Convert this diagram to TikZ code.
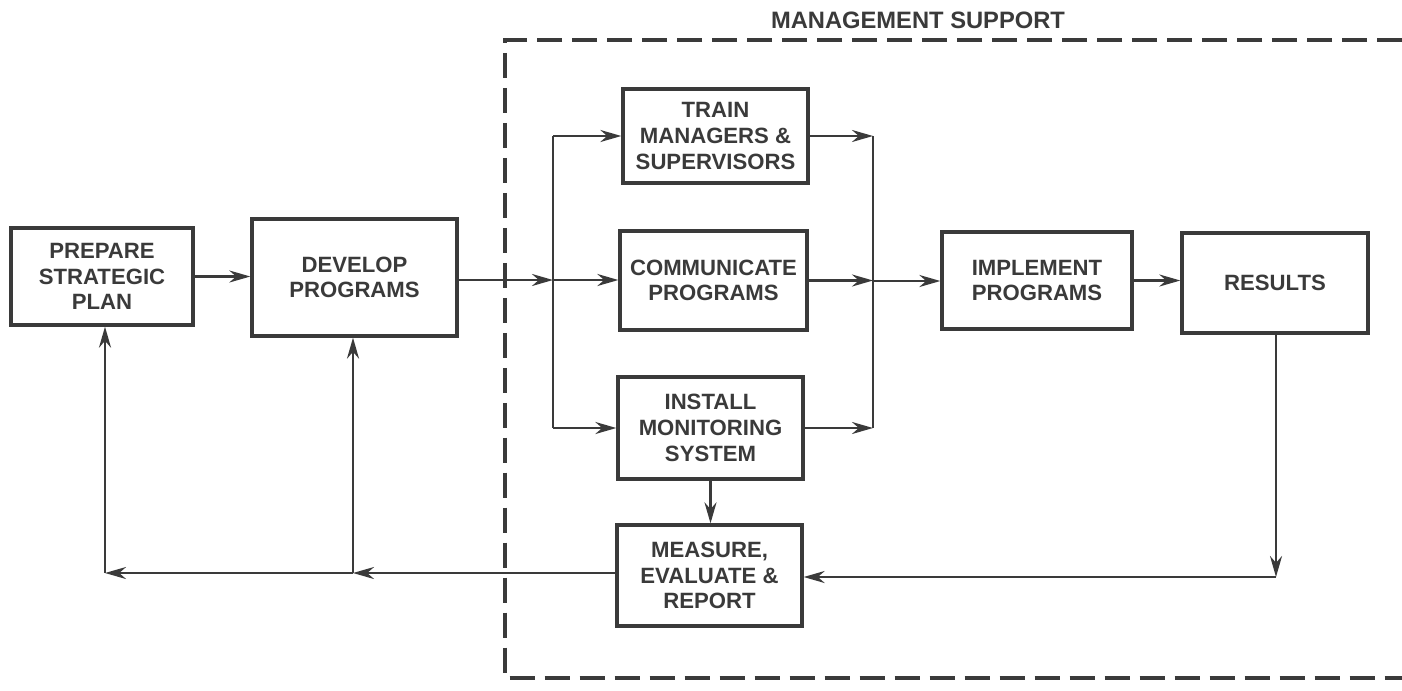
\documentclass[tikz,border=0pt]{standalone}
\usepackage{fontspec}
\setmainfont{Liberation Sans}
\usepackage{tikz}
\usetikzlibrary{arrows.meta}
\usetikzlibrary{calc}

\definecolor{ink}{RGB}{58,58,58}

\tikzset{
  blk/.style={draw=ink, line width=1.9pt, text=ink, align=center, inner sep=0pt,
    font=\fontsize{12.6}{14.6}\selectfont\bfseries},
  flow/.style={draw=ink, line width=1.5pt, -{Stealth[length=4.2mm,width=2.4mm]}},
  wire/.style={draw=ink, line width=1.5pt},
}

\begin{document}
\begin{tikzpicture}[x=0.02cm, y=-0.02cm]
\useasboundingbox (0,0) rectangle (1402,690);
% management support frame (open to the right)
\draw[ink, line width=2.1pt, dash pattern=on 0.5cm off 0.2cm] (1402,40) -- (505,40) -- (505,678) -- (1402,678);
\node[text=ink, font=\fontsize{13.5}{15}\selectfont\bfseries] (mgmt) at (918,20) {MANAGEMENT SUPPORT};

% boxes
\node[blk, minimum width=3.64cm, minimum height=1.94cm] (plan) at (102,276.5) {PREPARE\\STRATEGIC\\PLAN};
\node[blk, minimum width=4.1cm, minimum height=2.34cm] (dev) at (354.5,277.5) {DEVELOP\\PROGRAMS};
\node[blk, minimum width=3.7cm, minimum height=1.88cm] (train) at (715.5,136) {TRAIN\\MANAGERS \&\\SUPERVISORS};
\node[blk, minimum width=3.74cm, minimum height=1.98cm] (comm) at (713.5,280.5) {COMMUNICATE\\PROGRAMS};
\node[blk, minimum width=3.7cm, minimum height=2.04cm] (inst) at (710.5,428) {INSTALL\\MONITORING\\SYSTEM};
\node[blk, minimum width=3.7cm, minimum height=2.02cm] (meas) at (709.5,575.5) {MEASURE,\\EVALUATE \&\\REPORT};
\node[blk, minimum width=3.8cm, minimum height=1.94cm] (impl) at (1037,280.5) {IMPLEMENT\\PROGRAMS};
\node[blk, minimum width=3.72cm, minimum height=2cm] (res) at (1275,283) {RESULTS};

% branch and join points
\coordinate (split) at (553,280);
\coordinate (join) at (873,281);
\coordinate (fbr) at (1276,577);
\coordinate (fbd) at (353,573);
\coordinate (fbp) at (105,573);

% forward flow
\draw[flow] (plan.east) -- (plan.east -| dev.west);
\draw[flow] (dev.east |- split) -- (split);
\draw[wire] (split |- train) -- (split |- inst);
\draw[flow] (split |- train) -- (train.west);
\draw[flow] (split) -- (comm.west |- split);
\draw[flow] (split |- inst) -- (inst.west);
\draw[wire] (join |- train) -- (join |- inst);
\draw[flow] (train.east) -- (join |- train);
\draw[flow] (comm.east) -- (join |- comm);
\draw[flow] (inst.east) -- (join |- inst);
\draw[flow] (join) -- (impl.west |- join);
\draw[flow] (impl.east) -- (res.west |- impl.east);
\draw[flow] (inst.south) -- (inst.south |- meas.north);

% feedback
\draw[flow] (res.south -| fbr) -- (fbr);
\draw[flow] (fbr) -- (meas.east |- fbr);
\draw[flow] (meas.west |- fbd) -- (fbd);
\draw[flow] (fbd) -- (fbp);
\draw[flow] (fbd) -- (dev.south -| fbd);
\draw[flow] (fbp) -- (plan.south -| fbp);
\end{tikzpicture}
\end{document}
